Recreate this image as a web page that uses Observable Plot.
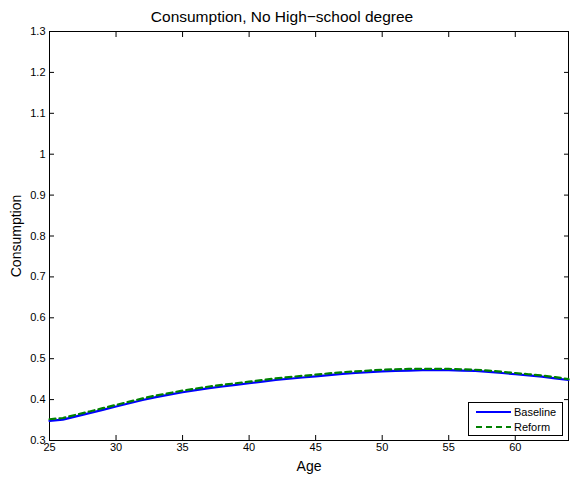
<!DOCTYPE html>
<html>
<head>
<meta charset="utf-8">
<script src="https://cdn.jsdelivr.net/npm/d3@7"></script>
<script src="https://cdn.jsdelivr.net/npm/@observablehq/plot@0.6"></script>
<style>
  html, body { margin: 0; padding: 0; background: #fff; }
  #wrap { position: relative; width: 573px; height: 486px; font-family: "Liberation Sans", Arial, sans-serif; }
  #legend { position: absolute; left: 468px; top: 402px; width: 93px; height: 32px; border: 1px solid #000; background: #fff; }
</style>
</head>
<body>
<div id="wrap"></div>
<script>
const ages = [25,26,27,28,29,30,31,32,33,34,35,36,37,38,39,40,41,42,43,44,45,46,47,48,49,50,51,52,53,54,55,56,57,58,59,60,61,62,63,64];
const baseline = [0.348,0.351,0.359,0.367,0.375,0.383,0.391,0.399,0.406,0.412,0.418,0.423,0.428,0.432,0.436,0.440,0.444,0.448,0.451,0.454,0.457,0.460,0.463,0.465,0.467,0.469,0.470,0.471,0.472,0.472,0.472,0.471,0.470,0.468,0.465,0.462,0.459,0.456,0.452,0.448];
const reform = [0.352,0.355,0.363,0.371,0.379,0.387,0.395,0.403,0.410,0.416,0.422,0.427,0.432,0.436,0.440,0.444,0.448,0.452,0.455,0.458,0.461,0.464,0.467,0.469,0.471,0.473,0.474,0.475,0.475,0.475,0.475,0.474,0.473,0.471,0.468,0.465,0.462,0.459,0.455,0.450];
const xTicks = [25,30,35,40,45,50,55,60];
const yTicks = [0.3,0.4,0.5,0.6,0.7,0.8,0.9,1.0,1.1,1.2,1.3];
const seriesNames = ["Baseline","Reform"];
const title = "Consumption, No High\u2212school degree";

const baseRows = ages.map((a,i) => ({age:a, value:baseline[i]}));
const refRows = ages.map((a,i) => ({age:a, value:reform[i]}));
const fmtY = d => (Math.abs(d - 1) < 1e-9 ? "1" : d3.format(".1f")(d));

const chart = Plot.plot({
  width: 573,
  height: 486,
  marginLeft: 49,
  marginRight: 5,
  marginTop: 31,
  marginBottom: 46,
  style: {fontFamily: "Liberation Sans, Arial, sans-serif", fontSize: "11px", color: "#000", background: "#fff"},
  x: {domain: [25,64]},
  y: {domain: [0.3,1.3]},
  marks: [
    Plot.frame({stroke: "#000", strokeWidth: 1}),
    Plot.axisX({anchor: "bottom", ticks: xTicks, tickSize: -5, tickPadding: 8, label: "Age", labelAnchor: "center", labelArrow: "none", labelOffset: 30, fontSize: 11}),
    Plot.axisX({anchor: "top", ticks: xTicks, tickSize: -5, tickFormat: () => "", label: null}),
    Plot.axisY({anchor: "left", ticks: yTicks, tickSize: -5, tickPadding: 9, tickFormat: fmtY, label: "Consumption", labelAnchor: "center", labelArrow: "none", labelOffset: 38, fontSize: 11}),
    Plot.axisY({anchor: "right", ticks: yTicks, tickSize: -5, tickFormat: () => "", label: null}),
    Plot.line(baseRows, {x: "age", y: "value", stroke: "#0000ff", strokeWidth: 2.2}),
    Plot.line(refRows, {x: "age", y: "value", stroke: "#008000", strokeWidth: 2.2, strokeDasharray: "6,4"}),
    Plot.text([title], {frameAnchor: "top", dx: -27, dy: -21, fontSize: 15.5, fill: "#000"})
  ]
});
d3.select(chart).selectAll("[aria-label='y-axis label'] text, [aria-label='x-axis label'] text").style("font-size", "14px");
document.getElementById("wrap").appendChild(chart);

const leg = document.createElement("div");
leg.id = "legend";
leg.innerHTML = `<svg width="93" height="32" style="display:block">
  <line x1="7" x2="42" y1="9" y2="9" stroke="#0000ff" stroke-width="2.2"/>
  <text x="45" y="13" font-size="11" font-family="Liberation Sans, Arial, sans-serif">${seriesNames[0]}</text>
  <line x1="7" x2="42" y1="24" y2="24" stroke="#008000" stroke-width="2.2" stroke-dasharray="6,4"/>
  <text x="45" y="28" font-size="11" font-family="Liberation Sans, Arial, sans-serif">${seriesNames[1]}</text>
</svg>`;
document.getElementById("wrap").appendChild(leg);
</script>
</body>
</html>
